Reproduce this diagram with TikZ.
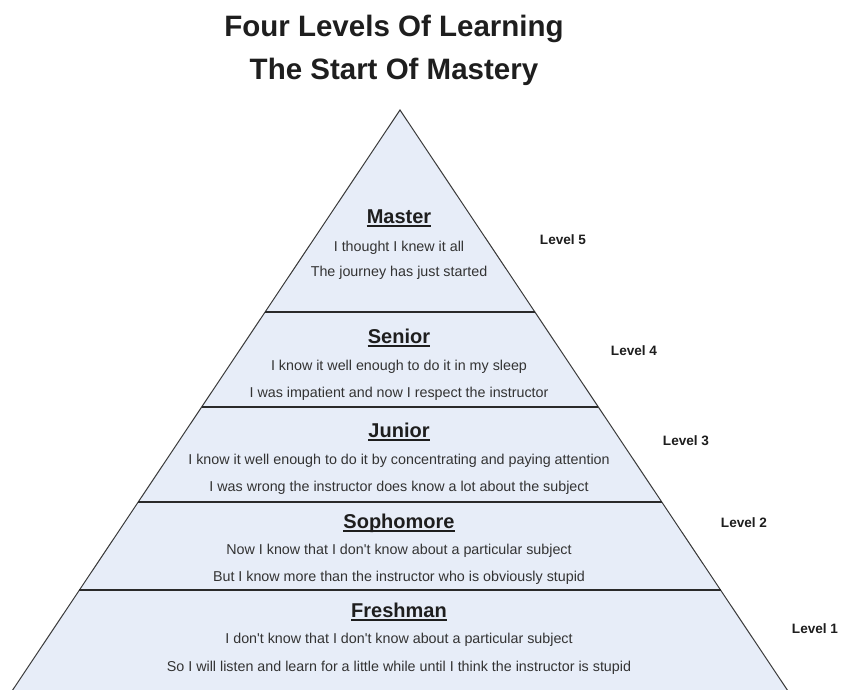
\documentclass[tikz,border=0pt]{standalone}
\usepackage{fontspec}
\setmainfont{Liberation Sans}
\newfontfamily\plainsans{Liberation Sans}
\definecolor{pyrfill}{HTML}{E7EDF8}
\definecolor{pyrline}{HTML}{3A3A3A}
\definecolor{sepline}{HTML}{2A2A2A}
\definecolor{bodytxt}{HTML}{333333}
\definecolor{headtxt}{HTML}{1E1E1E}
\tikzset{
  titletext/.style={font=\bfseries\fontsize{29.5}{34}\selectfont, text=headtxt, anchor=base, inner sep=0pt},
  headtext/.style={font=\bfseries\fontsize{20}{24}\selectfont, text=headtxt, anchor=base, inner sep=0pt},
  bodytext/.style={font=\plainsans\fontsize{14.3}{17}\selectfont, text=bodytxt, anchor=base, inner sep=0pt},
  lvltext/.style={font=\bfseries\fontsize{13.6}{16}\selectfont, text=headtxt, anchor=base, inner sep=0pt},
  uline/.style={draw=headtxt, line width=1.5pt},
  sepstyle/.style={draw=sepline, line width=1.3pt},
}
\begin{document}
\begin{tikzpicture}[x=1pt,y=-1pt]
\useasboundingbox (0,0) rectangle (841,690);
\fill[white] (0,0) rectangle (841,690);
\begin{scope}
\clip (0,0) rectangle (841,690);
\coordinate (apex) at (400,110);
\coordinate (bl) at (6,700);
\coordinate (br) at (794,700);
\fill[pyrfill] (apex) -- (br) -- (bl) -- cycle;
\draw[pyrline, line width=1pt] (bl) -- (apex) -- (br);
\end{scope}
% separators
\coordinate (s1l) at (265.1,312); \coordinate (s1r) at (534.9,312);
\coordinate (s2l) at (201.6,407); \coordinate (s2r) at (598.4,407);
\coordinate (s3l) at (138.1,502); \coordinate (s3r) at (661.9,502);
\coordinate (s4l) at (79.4,590);  \coordinate (s4r) at (720.6,590);
\draw[sepstyle] (s1l) -- (s1r);
\draw[sepstyle] (s2l) -- (s2r);
\draw[sepstyle] (s3l) -- (s3r);
\draw[sepstyle] (s4l) -- (s4r);
% title
\node[titletext] (t1) at (394,37) {Four Levels Of Learning};
\node[titletext] (t2) at (394,80) {The Start Of Mastery};
% Master
\node[headtext] (hmaster) at (399,223) {Master};
\draw[uline] ([yshift=-3pt]hmaster.base west) -- ([yshift=-3pt]hmaster.base east);
\node[bodytext] (m1) at (399,251) {I thought I knew it all};
\node[bodytext] (m2) at (399,276) {The journey has just started};
% Senior
\node[headtext] (hsenior) at (399,343) {Senior};
\draw[uline] ([yshift=-3pt]hsenior.base west) -- ([yshift=-3pt]hsenior.base east);
\node[bodytext] (se1) at (399,370) {I know it well enough to do it in my sleep};
\node[bodytext] (se2) at (399,397) {I was impatient and now I respect the instructor};
% Junior
\node[headtext] (hjunior) at (399,437) {Junior};
\draw[uline] ([yshift=-3pt]hjunior.base west) -- ([yshift=-3pt]hjunior.base east);
\node[bodytext] (j1) at (399,464) {I know it well enough to do it by concentrating and paying attention};
\node[bodytext] (j2) at (399,491) {I was wrong the instructor does know a lot about the subject};
% Sophomore
\node[headtext] (hsoph) at (399,528) {Sophomore};
\draw[uline] ([yshift=-3pt]hsoph.base west) -- ([yshift=-3pt]hsoph.base east);
\node[bodytext] (so1) at (399,554) {Now I know that I don't know about a particular subject};
\node[bodytext] (so2) at (399,581) {But I know more than the instructor who is obviously stupid};
% Freshman
\node[headtext] (hfresh) at (399,617) {Freshman};
\draw[uline] ([yshift=-3pt]hfresh.base west) -- ([yshift=-3pt]hfresh.base east);
\node[bodytext] (f1) at (399,643) {I don't know that I don't know about a particular subject};
\node[bodytext] (f2) at (399,671) {So I will listen and learn for a little while until I think the instructor is stupid};
% levels
\node[lvltext] (l5) at (563,244) {Level 5};
\node[lvltext] (l4) at (634,355) {Level 4};
\node[lvltext] (l3) at (686,445) {Level 3};
\node[lvltext] (l2) at (744,527) {Level 2};
\node[lvltext] (l1) at (815,633) {Level 1};
\end{tikzpicture}
\end{document}
